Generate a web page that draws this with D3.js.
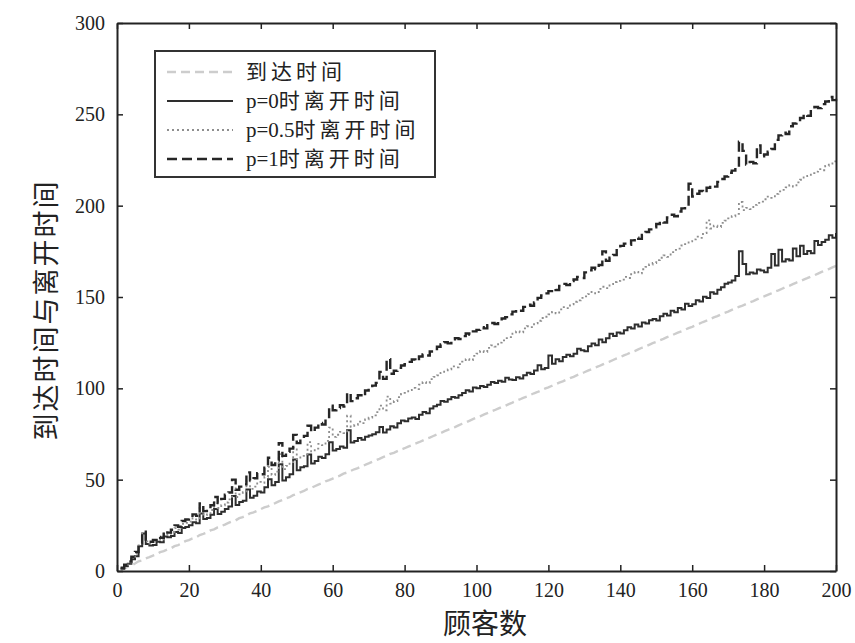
<!DOCTYPE html>
<html>
<head>
<meta charset="utf-8">
<script src="https://cdn.jsdelivr.net/npm/d3@7"></script>
<style>
  body { margin: 0; background: #fff; }
  svg { display: block; }
</style>
</head>
<body>
<svg id="chart" width="855" height="643"></svg>
<script>
// arrival times, one per customer (1..200)
var arrival = [
  0.5, 1.2, 2.4, 3.0, 4.1, 5.3, 5.8, 6.9, 7.6, 8.4,
  9.1, 10.3, 10.9, 11.8, 12.4, 13.6, 14.2, 15.1, 16.3, 16.9,
  17.8, 18.4, 19.7, 20.3, 21.0, 22.2, 22.8, 23.9, 24.6, 25.4,
  26.3, 27.1, 27.7, 28.9, 29.5, 30.4, 31.6, 32.1, 33.0, 33.9,
  34.8, 35.4, 36.5, 37.2, 38.1, 38.9, 39.8, 40.4, 41.5, 42.2,
  43.1, 43.8, 44.9, 45.5, 46.4, 47.3, 48.0, 49.1, 49.7, 50.6,
  51.5, 52.2, 53.3, 53.9, 54.8, 55.7, 56.3, 57.4, 58.1, 58.9,
  59.8, 60.6, 61.4, 62.3, 63.0, 64.1, 64.7, 65.6, 66.5, 67.2,
  68.1, 68.9, 69.8, 70.5, 71.4, 72.3, 73.0, 73.9, 74.8, 75.5,
  76.4, 77.2, 78.1, 78.8, 79.7, 80.6, 81.3, 82.2, 83.1, 84.0,
  84.7, 85.6, 86.4, 87.3, 88.0, 88.9, 89.8, 90.5, 91.4, 92.2,
  93.1, 93.9, 94.8, 95.5, 96.4, 97.3, 98.0, 98.9, 99.8, 100.5,
  101.4, 102.2, 103.1, 103.8, 104.7, 105.6, 106.3, 107.2, 108.1, 108.8,
  109.7, 110.5, 111.4, 112.1, 113.0, 113.9, 114.6, 115.5, 116.4, 117.1,
  118.0, 118.8, 119.7, 120.4, 121.3, 122.2, 122.9, 123.8, 124.7, 125.4,
  126.3, 127.1, 128.0, 128.7, 129.6, 130.5, 131.2, 132.1, 133.0, 133.7,
  134.6, 135.4, 136.3, 137.0, 137.9, 138.8, 139.5, 140.4, 141.3, 142.0,
  142.9, 143.7, 144.6, 145.3, 146.2, 147.1, 147.8, 148.7, 149.6, 150.3,
  151.2, 152.0, 152.9, 153.6, 154.5, 155.4, 156.1, 157.0, 157.9, 158.6,
  159.5, 160.3, 161.2, 161.9, 162.8, 163.7, 164.4, 165.3, 166.2, 167.0
];

// departure times, p = 0
var leaveP0 = [
  1.2, 2.8, 4.0, 6.5, 8.1, 13.5, 20.5, 14.8, 13.9, 14.2,
  16.0, 15.7, 18.9, 18.5, 19.2, 21.4, 20.8, 23.6, 24.1, 25.0,
  26.7, 26.2, 31.5, 28.4, 29.0, 30.8, 33.9, 31.2, 32.4, 34.0,
  35.3, 41.0, 36.2, 37.8, 38.5, 44.6, 40.1, 41.2, 43.5, 43.0,
  45.8, 50.2, 46.9, 48.7, 58.5, 49.6, 51.3, 53.0, 61.0, 55.2,
  56.8, 57.4, 63.8, 58.9, 60.2, 62.5, 61.8, 63.9, 70.5, 66.0,
  66.8, 68.2, 67.5, 77.0, 70.4, 71.2, 72.8, 71.9, 73.5, 74.2,
  74.8, 76.0, 78.9, 75.8, 77.4, 79.3, 78.6, 80.9, 82.4, 82.0,
  83.5, 84.1, 83.2, 85.6, 87.0, 86.4, 88.9, 90.2, 91.0, 93.1,
  92.6, 94.0, 95.3, 94.8, 96.2, 97.5, 98.9, 98.2, 100.4, 100.0,
  101.3, 100.7, 102.0, 103.4, 102.9, 104.1, 103.6, 105.8, 104.9, 104.5,
  106.0, 105.4, 107.2, 108.5, 107.9, 109.8, 112.6, 110.4, 111.2, 118.0,
  113.5, 115.9, 114.8, 117.2, 118.4, 117.6, 119.0, 121.7, 120.8, 120.3,
  123.0, 124.5, 123.6, 126.8, 125.2, 127.4, 129.9, 128.6, 130.5, 130.0,
  131.8, 133.4, 132.7, 134.9, 133.8, 136.1, 135.5, 137.3, 138.0, 137.2,
  139.4, 140.8, 139.9, 142.5, 141.7, 144.0, 143.2, 146.3, 145.1, 146.0,
  148.2, 147.5, 150.1, 149.4, 152.6, 151.8, 154.0, 155.3, 157.2, 158.0,
  159.0, 161.5, 175.0, 168.0, 162.5, 163.4, 162.8, 165.1, 164.5, 163.6,
  166.0, 173.5, 167.2, 175.8, 169.4, 170.6, 170.0, 176.5, 172.3, 178.0,
  173.6, 175.2, 174.0, 180.6, 178.5, 180.1, 181.4, 183.8, 182.5, 185.0
];

// departure times, p = 0.5
var leaveP05 = [
  1.5, 3.2, 4.8, 7.0, 9.5, 14.0, 21.0, 16.2, 15.0, 15.8,
  17.5, 17.0, 20.4, 19.8, 21.2, 23.5, 22.6, 25.8, 26.4, 27.0,
  28.9, 28.2, 34.5, 30.6, 31.5, 33.4, 37.8, 34.5, 36.0, 37.5,
  39.2, 46.0, 40.5, 42.0, 43.1, 49.5, 45.0, 46.2, 48.8, 48.3,
  51.5, 57.0, 52.6, 54.4, 64.0, 55.8, 57.5, 59.6, 67.5, 61.2,
  63.0, 63.8, 70.5, 65.5, 67.0, 69.6, 68.9, 71.2, 78.5, 73.4,
  74.6, 76.2, 75.5, 85.0, 78.9, 80.0, 81.8, 80.9, 83.0, 84.0,
  85.2, 87.0, 90.5, 88.0, 95.5, 91.6, 93.0, 95.2, 97.0, 97.5,
  99.0, 100.2, 99.6, 102.0, 103.4, 102.8, 105.0, 106.3, 107.1, 108.5,
  109.8, 110.4, 112.0, 111.5, 113.2, 114.6, 116.0, 115.4, 117.8, 119.0,
  120.5, 119.9, 122.2, 123.5, 122.8, 125.0, 126.3, 127.5, 128.0, 130.0,
  131.2, 130.6, 132.8, 134.0, 133.5, 135.6, 137.0, 138.5, 139.2, 140.5,
  141.8, 141.0, 143.2, 144.5, 143.9, 146.0, 147.4, 148.2, 149.5, 150.3,
  151.6, 152.8, 152.0, 154.5, 155.6, 154.9, 157.0, 158.2, 158.8, 159.5,
  161.0, 160.4, 162.5, 163.8, 163.0, 165.2, 166.5, 167.8, 168.6, 170.2,
  171.5, 172.8, 172.0, 174.6, 175.8, 176.5, 178.2, 179.0, 180.4, 181.5,
  183.0, 182.4, 185.0, 192.0, 187.5, 189.0, 188.3, 190.6, 191.8, 193.0,
  194.2, 195.5, 202.0, 197.6, 198.8, 198.1, 200.4, 201.5, 202.2, 203.5,
  205.0, 204.3, 206.5, 207.8, 208.6, 210.0, 211.2, 210.5, 212.8, 214.2,
  215.5, 216.3, 217.8, 218.6, 220.0, 219.4, 221.8, 223.0, 224.2, 225.8
];

// departure times, p = 1
var leaveP1 = [
  1.8, 3.5, 5.2, 7.8, 10.4, 15.0, 21.5, 17.2, 16.0, 17.0,
  18.6, 18.2, 21.8, 21.0, 22.6, 25.0, 24.2, 27.4, 28.2, 29.0,
  31.0, 30.2, 37.0, 32.8, 34.0, 36.0, 40.5, 37.4, 39.5, 41.8,
  43.0, 50.0, 44.5, 46.2, 47.5, 54.0, 49.6, 50.8, 53.6, 53.0,
  56.5, 62.0, 58.0, 60.5, 70.0, 63.0, 65.2, 67.0, 74.5, 70.0,
  72.4, 74.0, 79.5, 76.2, 78.5, 81.0, 80.2, 83.5, 90.5, 88.0,
  89.2, 90.8, 90.0, 97.5, 93.0, 94.6, 96.2, 95.5, 98.8, 100.0,
  101.5, 103.0, 109.0, 105.2, 116.0, 108.0, 109.6, 111.2, 112.5, 113.2,
  114.5, 115.8, 115.0, 117.4, 118.6, 118.0, 120.2, 121.5, 122.8, 124.0,
  125.2, 124.6, 126.8, 127.5, 127.0, 128.6, 130.0, 129.4, 131.2, 132.0,
  133.4, 132.8, 134.6, 135.8, 135.2, 137.0, 138.2, 139.0, 140.5, 142.0,
  143.0, 142.5, 144.6, 145.8, 145.2, 147.0, 149.5, 150.8, 152.0, 153.2,
  154.5, 153.8, 156.0, 157.2, 156.5, 158.8, 159.6, 161.0, 160.4, 163.5,
  164.6, 166.0, 165.2, 167.5, 175.0, 169.8, 171.5, 173.0, 176.4, 178.0,
  179.2, 178.6, 181.0, 182.5, 181.8, 184.0, 185.6, 187.0, 188.2, 190.0,
  191.4, 190.8, 193.5, 195.0, 194.2, 196.8, 198.5, 199.6, 212.0, 205.0,
  206.5, 208.0, 207.2, 209.8, 211.0, 210.4, 213.0, 214.6, 216.0, 218.0,
  219.2, 221.0, 235.0, 230.0, 222.5, 224.0, 223.2, 233.0, 227.0, 228.0,
  229.5, 231.0, 236.0, 238.5, 240.0, 239.2, 243.5, 245.0, 246.2, 248.0,
  250.0, 249.2, 252.5, 254.0, 253.4, 255.6, 257.0, 259.5, 257.8, 258.5
];

// legend labels: latin prefix + chinese part
var legendPrefix = ['', 'p=0', 'p=0.5', 'p=1'];
var legendSuffix = ['到达时间', '时离开时间', '时离开时间', '时离开时间'];
var xTicks = [0, 20, 40, 60, 80, 100, 120, 140, 160, 180, 200];
var yTicks = [0, 50, 100, 150, 200, 250, 300];

(function () {
    var svg = d3.select('#chart');
    var left = 117, right = 836, top = 23, bottom = 571;

    var xScale = d3.scaleLinear().domain([0, 200]).range([left, right]);
    var yScale = d3.scaleLinear().domain([0, 300]).range([bottom, top]);

    var styles = [
        { data: arrival,   stroke: '#cdcdcd', width: 2.4, dash: '9,5',  curve: d3.curveLinear },
        { data: leaveP0,   stroke: '#2e2e2e', width: 2,   dash: null,   curve: d3.curveStepAfter },
        { data: leaveP05,  stroke: '#8e8e8e', width: 1.8, dash: '2,3',  curve: d3.curveStepAfter },
        { data: leaveP1,   stroke: '#262626', width: 2.4, dash: '10,5', curve: d3.curveStepAfter }
    ];

    // lines
    styles.forEach(function (s) {
        var line = d3.line()
            .curve(s.curve)
            .x(function (d, i) { return xScale(i + 1); })
            .y(function (d) { return yScale(d); });
        svg.append('path')
            .datum(s.data)
            .attr('fill', 'none')
            .attr('stroke', s.stroke)
            .attr('stroke-width', s.width)
            .attr('stroke-dasharray', s.dash)
            .attr('d', line);
    });

    // axes (ticks inside, mirrored)
    var tickFont = '"Liberation Serif", "DejaVu Serif", serif';
    svg.append('g')
        .attr('transform', 'translate(0,' + bottom + ')')
        .call(d3.axisBottom(xScale).tickValues(xTicks).tickSizeInner(-6).tickSizeOuter(0).tickPadding(12));
    svg.append('g')
        .attr('transform', 'translate(' + left + ',0)')
        .call(d3.axisLeft(yScale).tickValues(yTicks).tickSizeInner(-6).tickSizeOuter(0).tickPadding(12));
    svg.append('g')
        .attr('transform', 'translate(0,' + top + ')')
        .call(d3.axisTop(xScale).tickValues(xTicks).tickSizeInner(-6).tickSizeOuter(0).tickFormat(''));
    svg.append('g')
        .attr('transform', 'translate(' + right + ',0)')
        .call(d3.axisRight(yScale).tickValues(yTicks).tickSizeInner(-6).tickSizeOuter(0).tickFormat(''));

    svg.selectAll('.domain').attr('stroke', '#222').attr('stroke-width', 2);
    svg.selectAll('.tick line').attr('stroke', '#222').attr('stroke-width', 1.5);
    svg.selectAll('.tick text')
        .attr('font-family', tickFont)
        .attr('font-size', 20)
        .attr('fill', '#222');

    // axis titles
    var cjkFont = '"Noto Sans CJK SC", "Noto Sans", sans-serif';
    svg.append('text')
        .attr('x', 485)
        .attr('y', 634)
        .attr('text-anchor', 'middle')
        .attr('font-family', cjkFont)
        .attr('font-size', 28)
        .attr('fill', '#222')
        .text('顾客数');

    svg.append('text')
        .attr('transform', 'translate(56,310) rotate(-90)')
        .attr('text-anchor', 'middle')
        .attr('font-family', cjkFont)
        .attr('font-size', 27)
        .attr('letter-spacing', 2)
        .attr('fill', '#222')
        .text('到达时间与离开时间');

    // legend
    var legend = svg.append('g');
    legend.append('rect')
        .attr('x', 155).attr('y', 51)
        .attr('width', 280).attr('height', 126)
        .attr('fill', '#fff')
        .attr('stroke', '#333')
        .attr('stroke-width', 2);

    legendSuffix.forEach(function (name, i) {
        var y = 72 + i * 29;
        var s = styles[i];
        legend.append('line')
            .attr('x1', 167).attr('x2', 233)
            .attr('y1', y).attr('y2', y)
            .attr('stroke', s.stroke)
            .attr('stroke-width', s.width)
            .attr('stroke-dasharray', s.dash);
        var t = legend.append('text')
            .attr('x', 246).attr('y', y + 7)
            .attr('font-size', 21)
            .attr('fill', '#222');
        t.append('tspan')
            .attr('font-family', tickFont)
            .text(legendPrefix[i]);
        t.append('tspan')
            .attr('font-family', cjkFont)
            .attr('letter-spacing', 4)
            .text(name);
    });
}).call(this);
</script>
</body>
</html>
